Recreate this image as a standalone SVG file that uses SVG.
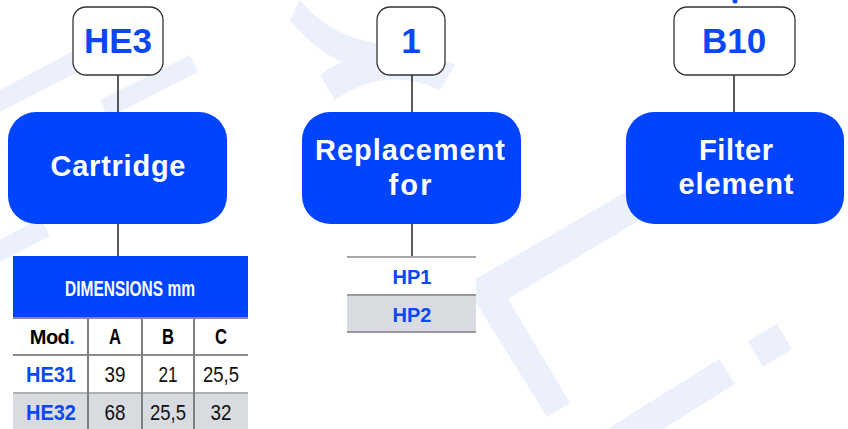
<svg xmlns="http://www.w3.org/2000/svg" width="848" height="429" viewBox="0 0 848 429">
  <style>
    .wm { fill: #ebf0fc; }
    .code { fill: #ffffff; stroke: #333333; stroke-width: 1.3; }
    .code-t { font-family: "Liberation Sans", Arial, sans-serif; font-weight: bold; font-size: 35px; fill: #0a47f5; text-anchor: middle; }
    .main { fill: #0044ff; }
    .main-t { font-family: "Liberation Sans", Arial, sans-serif; font-weight: bold; font-size: 29px; fill: #ffffff; text-anchor: middle; }
    .conn { stroke: #000000; stroke-width: 1.3; fill: none; }
    .hdr { font-family: "Liberation Sans Narrow", "Liberation Sans", Arial, sans-serif; font-weight: bold; fill: #000000; text-anchor: middle; }
    .num { font-family: "Liberation Sans Narrow", "Liberation Sans", Arial, sans-serif; font-size: 22px; fill: #111111; text-anchor: middle; }
    .mod { font-family: "Liberation Sans", Arial, sans-serif; font-weight: bold; font-size: 22px; fill: #0a47f5; text-anchor: middle; }
    .hp { font-family: "Liberation Sans", Arial, sans-serif; font-weight: bold; font-size: 20px; fill: #0a47f5; text-anchor: middle; }
    .gline { stroke: #9a9a9a; stroke-width: 2; }
    .vline { stroke: #7f7f7f; stroke-width: 2; }
    .grey { fill: #d8dbdf; }
  </style>

  <g id="watermark">
    <polygon class="wm" points="465,285 650,178 665,205 508,299 570,403 547,417"/>
    <polygon class="wm" points="748,341 777,324 792,349 763,367"/>
    <polygon class="wm" points="607,429 719,359 735,384 663,429"/>
    <path class="wm" d="M300,0 Q340,50 420,45 L440,75 Q340,85 290,20 Z"/>
    <path class="wm" d="M320,75 Q380,30 455,65 L440,90 Q385,65 335,100 Z"/>
    <path class="wm" d="M0,90 L75,50 L85,68 L0,112 Z"/>
    <path class="wm" d="M0,240 L40,218 L50,236 L0,262 Z"/>
    <path class="wm" d="M100,100 L190,55 L198,72 L108,118 Z"/>
  </g>

  <g id="connectors">
    <line class="conn" x1="118" y1="75" x2="118" y2="112"/>
    <line class="conn" x1="118" y1="224" x2="118" y2="256"/>
    <line class="conn" x1="412" y1="75" x2="412" y2="112"/>
    <line class="conn" x1="412" y1="224" x2="412" y2="257"/>
    <line class="conn" x1="734" y1="75" x2="734" y2="112"/>
  </g>

  <g id="code-he3">
    <rect class="code" x="73" y="7" width="90" height="68" rx="13"/>
    <text class="code-t" x="118" y="53">HE3</text>
  </g>
  <g id="code-1">
    <rect class="code" x="377" y="7" width="68" height="68" rx="13"/>
    <text class="code-t" x="411" y="53">1</text>
  </g>
  <g id="code-b10">
    <rect class="code" x="674" y="7" width="121" height="68" rx="13"/>
    <text class="code-t" x="734" y="53">B10</text>
  </g>
  <circle cx="735" cy="1" r="2.5" fill="#0a47f5"/>

  <g id="node-cartridge">
    <rect class="main" x="8" y="112" width="219" height="112" rx="28"/>
    <text class="main-t" x="118" y="176" textLength="135" lengthAdjust="spacing">Cartridge</text>
  </g>
  <g id="node-replacement">
    <rect class="main" x="302" y="112" width="219" height="112" rx="28"/>
    <text class="main-t" x="410" y="160" textLength="190" lengthAdjust="spacing">Replacement</text>
    <text class="main-t" x="410" y="195" textLength="43" lengthAdjust="spacing">for</text>
  </g>
  <g id="node-filter">
    <rect class="main" x="626" y="112" width="218" height="112" rx="28"/>
    <text class="main-t" x="736" y="160" textLength="74" lengthAdjust="spacing">Filter</text>
    <text class="main-t" x="736" y="194" textLength="115" lengthAdjust="spacing">element</text>
  </g>

  <g id="dimensions-table">
    <rect x="13" y="256" width="235" height="61" fill="#0044ff"/>
    <text class="hdr" x="130" y="296" font-size="22" style="fill:#ffffff" textLength="130" lengthAdjust="spacingAndGlyphs">DIMENSIONS mm</text>
    <rect x="13" y="318" width="235" height="37" fill="#ffffff"/>
    <rect x="13" y="356" width="235" height="37" fill="#ffffff"/>
    <rect class="grey" x="13" y="393" width="235" height="36"/>
    <line class="gline" x1="13" y1="318" x2="248" y2="318" style="stroke:#8c8c8c"/>
    <line class="gline" x1="13" y1="355" x2="248" y2="355" style="stroke:#8c8c8c"/>
    <line class="gline" x1="13" y1="393" x2="248" y2="393" style="stroke:#b0b0b0"/>
    <line class="vline" x1="88" y1="318" x2="88" y2="429"/>
    <line class="vline" x1="142" y1="318" x2="142" y2="429"/>
    <line class="vline" x1="194" y1="318" x2="194" y2="429"/>
    <text class="hdr" x="52" y="344" font-size="20" letter-spacing="-0.6">Mod<tspan style="fill:#0a47f5">.</tspan></text>
    <text class="hdr" x="115" y="344" font-size="22" textLength="12" lengthAdjust="spacingAndGlyphs">A</text>
    <text class="hdr" x="168" y="344" font-size="22" textLength="12" lengthAdjust="spacingAndGlyphs">B</text>
    <text class="hdr" x="221" y="344" font-size="22" textLength="12" lengthAdjust="spacingAndGlyphs">C</text>
    <text class="mod" x="51" y="382" textLength="50" lengthAdjust="spacingAndGlyphs">HE31</text>
    <text class="num" x="115" y="382" textLength="21" lengthAdjust="spacingAndGlyphs">39</text>
    <text class="num" x="168" y="382" textLength="19" lengthAdjust="spacingAndGlyphs">21</text>
    <text class="num" x="221" y="382" textLength="36" lengthAdjust="spacingAndGlyphs">25,5</text>
    <text class="mod" x="51" y="420" textLength="50" lengthAdjust="spacingAndGlyphs">HE32</text>
    <text class="num" x="115" y="420" textLength="21" lengthAdjust="spacingAndGlyphs">68</text>
    <text class="num" x="168" y="420" textLength="36" lengthAdjust="spacingAndGlyphs">25,5</text>
    <text class="num" x="221" y="420" textLength="21" lengthAdjust="spacingAndGlyphs">32</text>
  </g>

  <g id="replacement-table">
    <rect x="347" y="257" width="129" height="37" fill="#ffffff"/>
    <rect class="grey" x="347" y="295" width="129" height="37"/>
    <line class="gline" x1="347" y1="257" x2="476" y2="257" style="stroke:#a8a8a8"/>
    <line class="gline" x1="347" y1="295" x2="476" y2="295" style="stroke:#9a9a9a"/>
    <line class="gline" x1="347" y1="332" x2="476" y2="332" style="stroke:#999999"/>
    <text class="hp" x="412" y="284">HP1</text>
    <text class="hp" x="412" y="322">HP2</text>
  </g>
</svg>
